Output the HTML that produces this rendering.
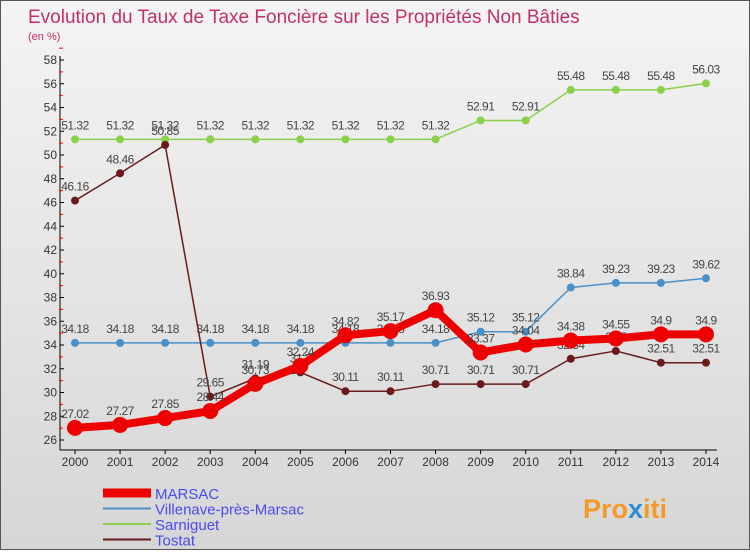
<!DOCTYPE html>
<html><head><meta charset="utf-8"><style>
body{margin:0;width:750px;height:550px;overflow:hidden;font-family:"Liberation Sans",sans-serif}
#wrap{position:relative;width:748px;height:548px;border:1px solid #555;background:linear-gradient(#f4f4f4,#d6d6d6)}
</style></head><body>
<div id="wrap">
<svg id="chart" width="748" height="548" font-family="Liberation Sans, sans-serif">
<text x="27" y="22" font-size="19" fill="#c2316a">Evolution du Taux de Taxe Foncière sur les Propriétés Non Bâties</text>
<text x="27" y="39" font-size="11" fill="#c2316a">(en %)</text>
<g id="axes"></g><g id="series"></g><g id="legend"></g>
<text x="582" y="517" font-size="27" font-weight="bold" fill="#f39a2a">Pro<tspan fill="#2a8fd6">x</tspan>iti</text>
</svg></div>
<script>
const years=[2000,2001,2002,2003,2004,2005,2006,2007,2008,2009,2010,2011,2012,2013,2014];
const yTicks=[26,28,30,32,34,36,38,40,42,44,46,48,50,52,54,56,58];
const marsac=[27.02,27.27,27.85,28.44,30.73,32.24,34.82,35.17,36.93,33.37,34.04,34.38,34.55,34.9,34.9];
const villenave=[34.18,34.18,34.18,34.18,34.18,34.18,34.18,34.18,34.18,35.12,35.12,38.84,39.23,39.23,39.62];
const sarniguet=[51.32,51.32,51.32,51.32,51.32,51.32,51.32,51.32,51.32,52.91,52.91,55.48,55.48,55.48,56.03];
const tostat=[46.16,48.46,50.85,29.65,31.19,31.7,30.11,30.11,30.71,30.71,30.71,32.84,33.5,32.51,32.51];
const NS="http://www.w3.org/2000/svg";
const X=i=>74+i*45.07, Y=v=>439-(v-26)*11.875;
function mk(p,t,a){const e=document.createElementNS(NS,t);for(const k in a)e.setAttribute(k,a[k]);p.appendChild(e);return e;}
const ax=document.getElementById('axes');
let l=mk(ax,'line',{x1:59,y1:55,x2:59,y2:449,stroke:'#000'});

l=mk(ax,'line',{x1:59,y1:449,x2:716,y2:449,stroke:'#000'});

yTicks.forEach(v=>{mk(ax,'line',{x1:59,y1:Y(v),x2:63,y2:Y(v),stroke:'#000'});
 mk(ax,'line',{x1:58,y1:Y(v+1),x2:62,y2:Y(v+1),stroke:'#e00'});
 const t=mk(ax,'text',{x:56,y:Y(v)+4,'font-size':12,'text-anchor':'end',fill:'#333'});t.textContent=v;
 });
years.forEach((yr,i)=>{mk(ax,'line',{x1:X(i),y1:449,x2:X(i),y2:453,stroke:'#000'});
 const t=mk(ax,'text',{x:X(i),y:465,'font-size':12,'text-anchor':'middle',fill:'#333'});t.textContent=yr;
 });
const sg=document.getElementById('series');
function series(data,color,w,r,name){const g=mk(sg,'g',{});
 
 const p=mk(g,'polyline',{points:data.map((v,i)=>X(i)+','+Y(v)).join(' '),fill:'none',stroke:color,'stroke-width':w,'stroke-linejoin':'round'});
 data.forEach((v,i)=>{const c=mk(g,'circle',{cx:X(i),cy:Y(v),r:r,fill:color});
  
  const t=mk(g,'text',{x:X(i),y:Y(v)-10,'font-size':12,'text-anchor':'middle',fill:'#444','letter-spacing':'-0.5'});t.textContent=v;
  });}
series(sarniguet,'#8ad04a',1.5,4,'sarniguet');
series(villenave,'#4a90c8',1.5,4,'villenave');
series(tostat,'#6a1a1a',1.5,4,'tostat');
series(marsac,'#ee0000',8,8,'marsac');
const lg=document.getElementById('legend');
const items=[['MARSAC','#ee0000',9],['Villenave-près-Marsac','#4a90c8',2],['Sarniguet','#8ad04a',2],['Tostat','#6a1a1a',2]];
items.forEach((it,i)=>{const y=492+i*15.5;const g=mk(lg,'g',{});
 
 mk(g,'line',{x1:102,y1:y,x2:150,y2:y,stroke:it[1],'stroke-width':it[2]});
 const t=mk(g,'text',{x:154,y:y+6,'font-size':15,fill:'#4a4aee'});t.textContent=it[0];});
</script>
</body></html>
